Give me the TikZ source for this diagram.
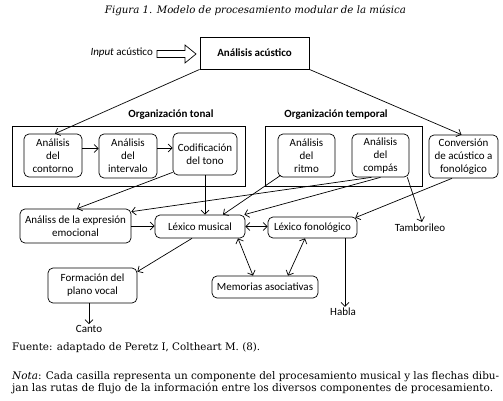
\documentclass[tikz,border=0pt]{standalone}
\usepackage{fontspec}
\usepackage{graphicx}
\setmainfont{Carlito}
\newfontfamily\capfont{DejaVu Serif}
\usetikzlibrary{arrows.meta}
\begin{document}
\begin{tikzpicture}[x=1pt,y=-1pt,
  every node/.style={font=\fontsize{11}{13}\selectfont, inner sep=0pt, align=center},
  rbox/.style={draw, rounded corners=5pt, line width=0.7pt},
  sbox/.style={draw, line width=0.9pt},
  conn/.style={line width=0.7pt, -{Straight Barb[length=4pt,width=8pt]}},
  dconn/.style={line width=0.7pt, {Straight Barb[length=4pt,width=8pt]}-{Straight Barb[length=4pt,width=8pt]}},
  captext/.style={font=\capfont\fontsize{10}{12}\selectfont, anchor=base west}]
\useasboundingbox (0,0) rectangle (503,401);
\fill[white] (0,0) rectangle (503,401);

% title
\node[font=\capfont\fontsize{10}{12}\selectfont, anchor=base] (title) at (255.5,13.5) {\resizebox{301pt}{!}{\itshape Figura 1. Modelo de procesamiento modular de la música}};

% top
\node[sbox, minimum width=109pt, minimum height=32pt, font=\bfseries\fontsize{11}{13}\selectfont] (acus) at (254.5,53) {Análisis acústico};
\node[anchor=east] (input) at (153,53) {\textit{Input} acústico};
\draw[line width=0.7pt] (157,50.5) -- (185,50.5) -- (185,45) -- (196,54) -- (185,63) -- (185,57.5) -- (157,57.5) -- cycle;

% group labels
\node[font=\bfseries\fontsize{11}{13}\selectfont] (ltonal) at (171,115) {Organización tonal};
\node[font=\bfseries\fontsize{11}{13}\selectfont] (ltemp) at (336,115) {Organización temporal};

% outer boxes
\draw[sbox] (12,126) rectangle (245,186);
\draw[sbox] (265,126) rectangle (422,186);

% inner boxes
\node[rbox, minimum width=58pt, minimum height=43pt] (contorno) at (53,155.5) {Análisis\\del\\contorno};
\node[rbox, minimum width=58pt, minimum height=44pt] (intervalo) at (128,156) {Análisis\\del\\intervalo};
\node[rbox, minimum width=64pt, minimum height=42pt] (codif) at (205,154) {Codificación\\del tono};
\node[rbox, minimum width=57pt, minimum height=43pt] (ritmo) at (306.5,155.5) {Análisis\\del\\ritmo};
\node[rbox, minimum width=57pt, minimum height=43pt] (compas) at (380.5,155.5) {Análisis\\del\\compás};
\node[rbox, minimum width=69pt, minimum height=43pt] (conv) at (463.5,156.5) {Conversión\\de acústico a\\fonológico};

% second row
\node[rbox, minimum width=111pt, minimum height=34pt] (expr) at (75.5,226) {Análiss de la expresión\\emocional};
\node[rbox, minimum width=90pt, minimum height=23pt] (lexmus) at (200,226.5) {Léxico musical};
\node[rbox, minimum width=89pt, minimum height=21pt] (lexfon) at (312.5,227.5) {Léxico fonológico};
\node (tambor) at (420,228) {Tamborileo};

% third row
\node[rbox, minimum width=89pt, minimum height=35pt] (form) at (92.5,285.5) {Formación del\\plano vocal};
\node[rbox, minimum width=106pt, minimum height=22pt] (mem) at (265,287) {Memorias asociativas};
\node (canto) at (89,329) {Canto};
\node (habla) at (343,312) {Habla};

% connectors
\draw[conn] (acus.south west) -- ([xshift=2pt]contorno.north);
\draw[conn] (acus.south east) -- ([xshift=-2pt]conv.north);
\draw[conn] ([yshift=7pt]contorno.east) -- ([yshift=7pt]contorno.east -| intervalo.west);
\draw[conn] ([yshift=8pt]intervalo.east) -- ([yshift=8pt]intervalo.east -| codif.west);
\draw[conn] (codif.south) -- (codif.south |- lexmus.north);
\draw[conn] ([yshift=3pt]codif.south west) -- ([xshift=1.5pt]expr.north);
\draw[conn] ([xshift=3pt,yshift=2pt]ritmo.south west) -- ([xshift=23pt]lexmus.north);
\draw[conn] ([xshift=0pt]compas.south) -- ([xshift=-1pt]lexmus.north east);
\draw[conn] ([xshift=-9pt]compas.south) -- ([yshift=-3pt]expr.north east);
\draw[conn] ([xshift=-11.5pt]conv.south) -- ([xshift=-2pt,yshift=-1pt]lexfon.north east);
\draw[conn] ([xshift=-2pt]compas.south east) -- ([yshift=2pt,xshift=2pt]tambor.north);
\draw[conn] (expr.east) -- (expr.east -| lexmus.west);
\draw[dconn] (lexmus.east) -- (lexmus.east -| lexfon.west);
\draw[dconn] ([xshift=38pt]lexmus.south) -- ([xshift=-12pt]mem.north);
\draw[dconn] ([xshift=-7.5pt]lexfon.south) -- ([xshift=23pt]mem.north);
\draw[conn] ([xshift=-8pt]lexmus.south) -- ([yshift=-4pt]form.north east);
\draw[conn] ([xshift=32.5pt]lexfon.south) -- ([xshift=32.5pt,yshift=1pt]lexfon.south |- habla.north);
\draw[conn] (canto.north |- form.south) -- ([yshift=1pt]canto.north);

% captions
\node[captext] (fuente) at (12,350.5) {\resizebox{248pt}{!}{Fuente: adaptado de Peretz I, Coltheart M. (8).}};
\node[captext] (nota1) at (12,379.5) {\resizebox{487pt}{!}{\textit{Nota}: Cada casilla representa un componente del procesamiento musical y las flechas dibu-}};
\node[captext] (nota2) at (12,391.5) {\resizebox{481pt}{!}{jan las rutas de flujo de la información entre los diversos componentes de procesamiento.}};
\end{tikzpicture}
\end{document}
